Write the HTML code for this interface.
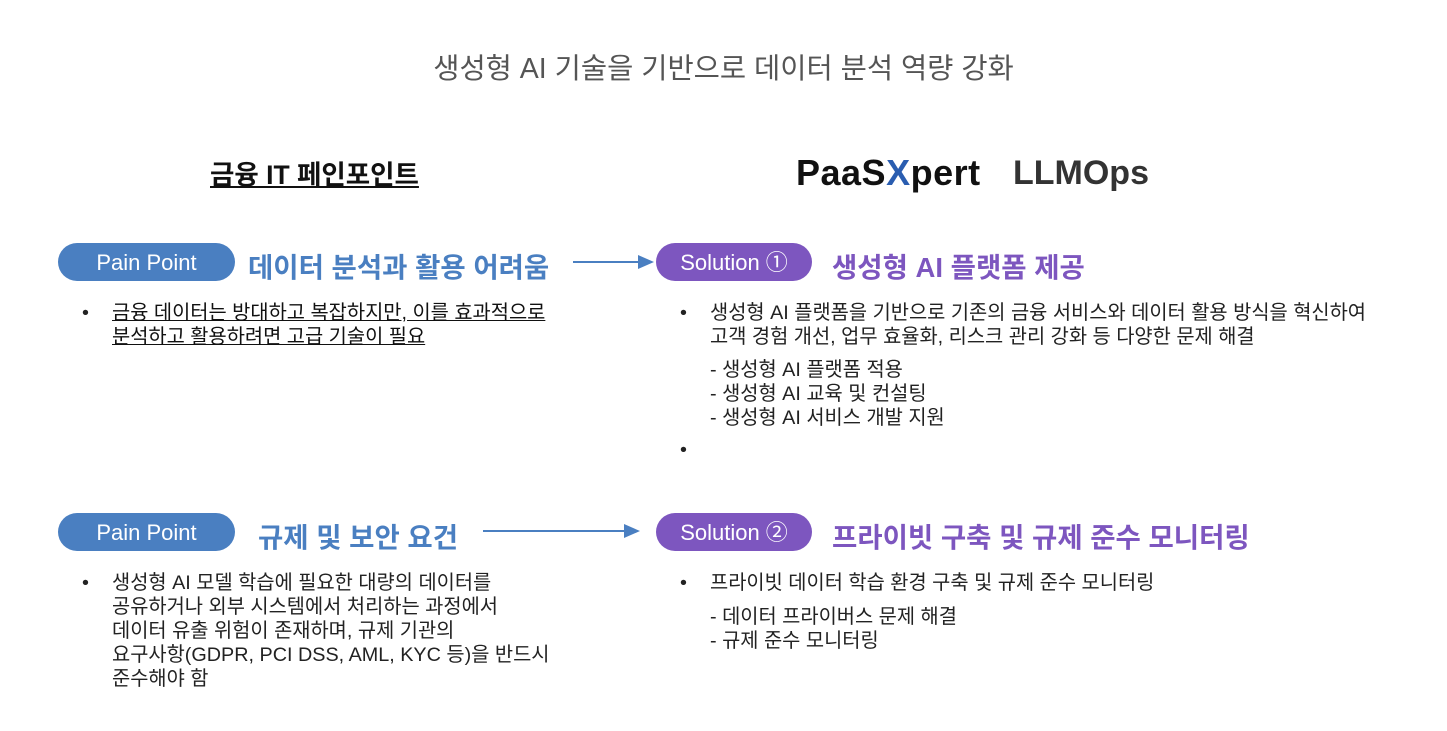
<!DOCTYPE html>
<html><head><meta charset="utf-8"><style>
body{margin:0;width:1447px;height:731px;background:#fff;position:relative;overflow:hidden;font-family:"Liberation Sans","Noto Sans CJK KR",sans-serif;}
.a{position:absolute;white-space:nowrap}
.pill{position:absolute;height:38px;border-radius:19px;color:#fff;font-size:22px;line-height:40px;text-align:center}
.pb{background:#4a7fc1}.pp{background:#7d56bf}
.hb{color:#4a7fc1;font-size:27.5px;font-weight:bold}
.hp{color:#7d56bf;font-size:27.5px;font-weight:bold}
.t{font-size:19.8px;color:#222;line-height:24px}
</style></head><body>
<div class="a" style="left:0;width:1447px;text-align:center;top:46px;font-size:28.5px;color:#555">생성형 AI 기술을 기반으로 데이터 분석 역량 강화</div>
<div class="a" style="left:210px;top:153px;font-size:26.5px;font-weight:bold;text-decoration:underline;color:#111">금융 IT 페인포인트</div>
<div class="a" style="left:796px;top:152px;font-size:36px;font-weight:bold;color:#111;letter-spacing:0.5px">PaaS<span style="color:#2a5db0">X</span>pert</div>
<div class="a" style="left:1013px;top:154px;font-size:34px;font-weight:bold;color:#333">LLMOps</div>

<div class="pill pb" style="left:58px;top:243px;width:177px">Pain Point</div>
<div class="a hb" style="left:248px;top:245px">데이터 분석과 활용 어려움</div>
<div class="pill pp" style="left:656px;top:243px;width:156px">Solution ①</div>
<div class="a hp" style="left:832px;top:245px">생성형 AI 플랫폼 제공</div>

<div class="pill pb" style="left:58px;top:513px;width:177px">Pain Point</div>
<div class="a hb" style="left:258px;top:515px">규제 및 보안 요건</div>
<div class="pill pp" style="left:656px;top:513px;width:156px">Solution ②</div>
<div class="a hp" style="left:832px;top:515px">프라이빗 구축 및 규제 준수 모니터링</div>

<svg class="a" style="left:0;top:0" width="1447" height="731">
<line x1="573" y1="262" x2="640" y2="262" stroke="#4a7fc1" stroke-width="2"/>
<polygon points="638,255 654,262 638,269" fill="#4a7fc1"/>
<line x1="483" y1="531" x2="626" y2="531" stroke="#4a7fc1" stroke-width="2"/>
<polygon points="624,524 640,531 624,538" fill="#4a7fc1"/>
</svg>

<div class="a t" style="left:82px;top:301px">•</div>
<div class="a t" style="left:112px;top:301px;text-decoration:underline;color:#111">금융 데이터는 방대하고 복잡하지만, 이를 효과적으로<br>분석하고 활용하려면 고급 기술이 필요</div>

<div class="a t" style="left:680px;top:301px">•</div>
<div class="a t" style="left:710px;top:301px">생성형 AI 플랫폼을 기반으로 기존의 금융 서비스와 데이터 활용 방식을 혁신하여<br>고객 경험 개선, 업무 효율화, 리스크 관리 강화 등 다양한 문제 해결</div>
<div class="a t" style="left:710px;top:358px">- 생성형 AI 플랫폼 적용<br>- 생성형 AI 교육 및 컨설팅<br>- 생성형 AI 서비스 개발 지원</div>
<div class="a t" style="left:680px;top:438px">•</div>

<div class="a t" style="left:82px;top:571px">•</div>
<div class="a t" style="left:112px;top:571px">생성형 AI 모델 학습에 필요한 대량의 데이터를<br>공유하거나 외부 시스템에서 처리하는 과정에서<br>데이터 유출 위험이 존재하며, 규제 기관의<br>요구사항(GDPR, PCI DSS, AML, KYC 등)을 반드시<br>준수해야 함</div>

<div class="a t" style="left:680px;top:571px">•</div>
<div class="a t" style="left:710px;top:571px">프라이빗 데이터 학습 환경 구축 및 규제 준수 모니터링</div>
<div class="a t" style="left:710px;top:605px">- 데이터 프라이버스 문제 해결<br>- 규제 준수 모니터링</div>
</body></html>
